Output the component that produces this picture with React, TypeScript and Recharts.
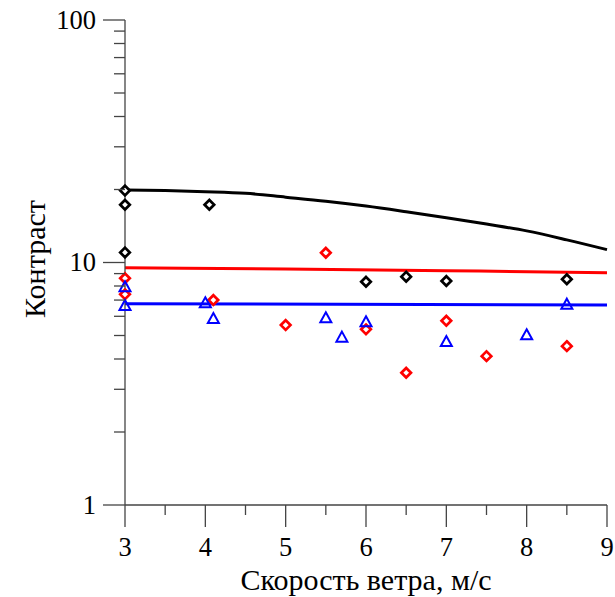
import React from "react";
import { ComposedChart, Line, Scatter, XAxis, YAxis } from "recharts";

const xTicks = [3, 3.5, 4, 4.5, 5, 5.5, 6, 6.5, 7, 7.5, 8, 8.5, 9];
const xMajor = [3, 4, 5, 6, 7, 8, 9];
const yTicks = [1, 2, 3, 4, 5, 6, 7, 8, 9, 10, 20, 30, 40, 50, 60, 70, 80, 90, 100];
const yMajor = [1, 10, 100];

const blackLine = [
  { x: 3, y: 19.9 }, { x: 3.5, y: 19.8 }, { x: 4, y: 19.6 }, { x: 4.5, y: 19.3 },
  { x: 5, y: 18.6 }, { x: 5.5, y: 17.9 }, { x: 6, y: 17.1 }, { x: 6.5, y: 16.2 },
  { x: 7, y: 15.3 }, { x: 7.5, y: 14.4 }, { x: 8, y: 13.5 }, { x: 8.5, y: 12.4 }, { x: 9, y: 11.3 },
];
const redLine = [{ x: 3, y: 9.52 }, { x: 5, y: 9.4 }, { x: 7, y: 9.25 }, { x: 9, y: 9.08 }];
const blueLine = [{ x: 3, y: 6.76 }, { x: 9, y: 6.68 }];

const blackPts = [
  { x: 3, y: 19.8 }, { x: 3, y: 17.3 }, { x: 3, y: 11.0 }, { x: 4.05, y: 17.3 },
  { x: 6, y: 8.33 }, { x: 6.5, y: 8.74 }, { x: 7, y: 8.39 }, { x: 8.5, y: 8.53 },
];
const redPts = [
  { x: 3, y: 8.61 }, { x: 3, y: 7.39 }, { x: 4.1, y: 7.0 }, { x: 5, y: 5.52 },
  { x: 5.5, y: 10.97 }, { x: 6, y: 5.3 }, { x: 6.5, y: 3.51 }, { x: 7, y: 5.75 },
  { x: 7.5, y: 4.11 }, { x: 8.5, y: 4.52 },
];
const bluePts = [
  { x: 3, y: 7.9 }, { x: 3, y: 6.62 }, { x: 4.0, y: 6.79 }, { x: 4.1, y: 5.85 },
  { x: 5.5, y: 5.89 }, { x: 5.7, y: 4.9 }, { x: 6, y: 5.67 }, { x: 7, y: 4.7 },
  { x: 8, y: 5.01 }, { x: 8.5, y: 6.7 },
];

const FONT = "'Liberation Serif', 'Times New Roman', serif";
const AXIS = "#444";

const XTick = (props: any) => {
  const { x, y, payload } = props;
  const major = xMajor.includes(payload.value);
  return (
    <g>
      <line x1={x} y1={y} x2={x} y2={y + (major ? 22 : 10)} stroke={AXIS} strokeWidth={1.3} />
      {major && (
        <text x={x} y={y + 51} textAnchor="middle" fontFamily={FONT} fontSize={26.5} fill="#000">
          {payload.value}
        </text>
      )}
    </g>
  );
};

const YTick = (props: any) => {
  const { x, y, payload } = props;
  const major = yMajor.includes(payload.value);
  return (
    <g>
      <line x1={x} y1={y} x2={x - (major ? 22 : 11)} y2={y} stroke={AXIS} strokeWidth={1.3} />
      {major && (
        <text x={x - 29} y={y + 8.5} textAnchor="end" fontFamily={FONT} fontSize={26.5} fill="#000">
          {payload.value}
        </text>
      )}
    </g>
  );
};

const Diamond = (color: string) => (props: any) => {
  const { cx, cy } = props;
  const r = 4.8;
  return (
    <path
      d={`M${cx},${cy - r} L${cx + r},${cy} L${cx},${cy + r} L${cx - r},${cy} Z`}
      fill="#fff"
      stroke={color}
      strokeWidth={2.7}
    />
  );
};

const Triangle = (color: string) => (props: any) => {
  const { cx, cy } = props;
  const w = 5.5;
  return (
    <path
      d={`M${cx},${cy - 6} L${cx + w},${cy + 4} L${cx - w},${cy + 4} Z`}
      fill="none"
      stroke={color}
      strokeWidth={2}
    />
  );
};

export default function App() {
  return (
    <div style={{ position: "absolute", left: 0, top: 0, width: 615, height: 597, background: "#fff" }}>
      <ComposedChart width={615} height={597} margin={{ top: 20, right: 8, bottom: 0, left: 0 }}>
        <XAxis
          type="number"
          dataKey="x"
          domain={[3, 9]}
          ticks={xTicks}
          interval={0}
          tickSize={0}
          tickMargin={0}
          height={92}
          axisLine={{ stroke: AXIS, strokeWidth: 1.3 }}
          tickLine={false}
          tick={<XTick />}
          label={{
            content: (p: any) => {
              const vb = p.viewBox;
              return (
                <text x={vb.x + vb.width / 2} y={vb.y + 85} textAnchor="middle" fontFamily={FONT} fontSize={30} fill="#000">
                  Скорость ветра, м/с
                </text>
              );
            },
          }}
        />
        <YAxis
          type="number"
          dataKey="y"
          scale="log"
          domain={[1, 100]}
          ticks={yTicks}
          interval={0}
          tickSize={0}
          tickMargin={0}
          width={125}
          axisLine={{ stroke: AXIS, strokeWidth: 1.3 }}
          tickLine={false}
          tick={<YTick />}
          label={{
            content: (p: any) => {
              const vb = p.viewBox;
              const cx = vb.x + 45;
              const cy = vb.y + vb.height / 2 - 3.5;
              return (
                <text
                  x={cx}
                  y={cy}
                  transform={`rotate(-90, ${cx}, ${cy})`}
                  textAnchor="middle"
                  fontFamily={FONT}
                  fontSize={30}
                  fill="#000"
                >
                  Контраст
                </text>
              );
            },
          }}
        />
        <Line data={blackLine} dataKey="y" type="monotone" stroke="#000" strokeWidth={3} dot={false} isAnimationActive={false} />
        <Line data={redLine} dataKey="y" type="monotone" stroke="#ff0000" strokeWidth={3} dot={false} isAnimationActive={false} />
        <Line data={blueLine} dataKey="y" type="monotone" stroke="#0000ff" strokeWidth={3} dot={false} isAnimationActive={false} />
        <Scatter data={blackPts} dataKey="y" shape={Diamond("#000")} isAnimationActive={false} />
        <Scatter data={redPts} dataKey="y" shape={Diamond("#ff0000")} isAnimationActive={false} />
        <Scatter data={bluePts} dataKey="y" shape={Triangle("#0000ff")} isAnimationActive={false} />
      </ComposedChart>
    </div>
  );
}
